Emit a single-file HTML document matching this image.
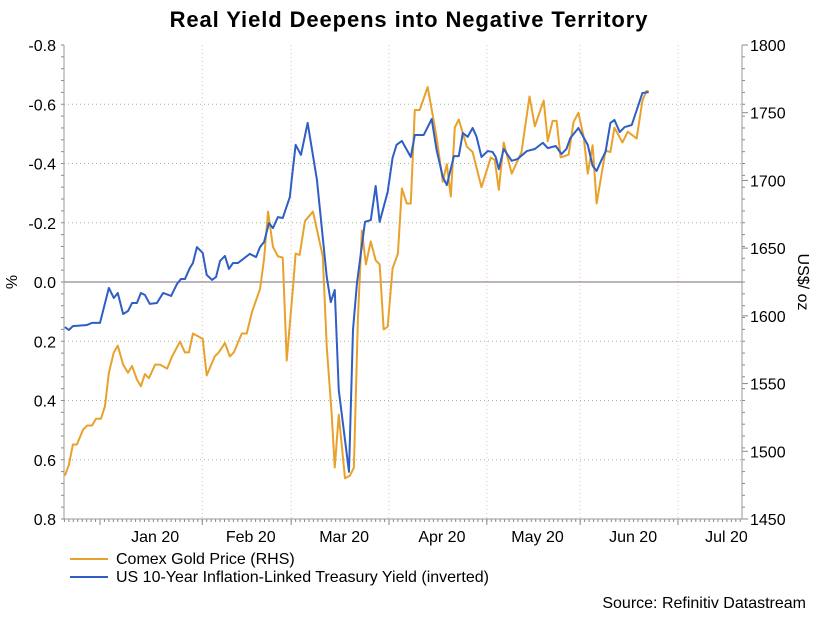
<!DOCTYPE html>
<html><head><meta charset="utf-8"><style>
body{margin:0;background:#fff;}
svg{display:block;font-family:"Liberation Sans",Arial,sans-serif;}
</style></head><body>
<svg id="c" width="818" height="617">
<text x="409" y="27" text-anchor="middle" font-size="22" font-weight="bold" letter-spacing="0.9" fill="#000">Real Yield Deepens into Negative Territory</text>
<g id="grid"></g><g id="axes"></g><g id="series"></g>
<text transform="translate(17,282) rotate(-90)" text-anchor="middle" font-size="16">%</text>
<text transform="translate(798,282) rotate(90)" text-anchor="middle" font-size="16">US$/ oz</text>
<g>
<line x1="70" y1="559" x2="108" y2="559" stroke="#e8a22c" stroke-width="2"/>
<text x="116" y="564" font-size="16">Comex Gold Price (RHS)</text>
<line x1="70" y1="577" x2="108" y2="577" stroke="#2f5ec4" stroke-width="2"/>
<text x="116" y="582" font-size="16">US 10-Year Inflation-Linked Treasury Yield (inverted)</text>
</g>
<text x="806" y="608" text-anchor="end" font-size="16">Source: Refinitiv Datastream</text>
</svg>
<script>
// business-day index from Jan 1 2020
const yieldDays=[-7.9,-7.0,-6.1,-2.9,-1.8,0,2.0,3.1,4.0,5.2,6.3,7.2,8.3,9.2,10.1,11.2,12.8,14.2,16.0,17.3,18.2,19.1,20.2,20.9,21.8,23.1,24.0,25.2,26.1,27.0,28.1,29.0,29.9,31.0,33.7,35.1,36.0,36.9,38.0,38.9,40.0,41.1,42.7,43.1,44.0,45.2,46.7,48.8,51.0,51.9,52.8,53.7,56.0,56.9,57.8,59.6,60.9,62.0,62.9,64.7,65.8,66.7,67.9,69.9,70.8,72.8,74.6,75.7,77.1,78.0,79.6,80.7,81.6,82.7,83.8,84.7,85.8,87.2,88.3,89.0,89.7,90.8,92.6,93.9,96.0,97.8,99.6,100.7,102.5,103.8,104.9,105.8,107.6,109.7,110.8,111.7,112.8,113.7,114.8,115.7,116.9,118.0,119.6,122.0,123.4];
const yieldVals=[0.152,0.162,0.149,0.145,0.138,0.138,0.02,0.054,0.037,0.108,0.098,0.071,0.071,0.037,0.044,0.074,0.071,0.037,0.047,0.007,-0.01,-0.01,-0.047,-0.064,-0.118,-0.098,-0.024,-0.007,-0.017,-0.071,-0.088,-0.044,-0.064,-0.064,-0.095,-0.084,-0.118,-0.135,-0.199,-0.182,-0.219,-0.216,-0.287,-0.344,-0.463,-0.429,-0.537,-0.344,-0.017,0.068,0.027,0.365,0.641,0.162,0.003,-0.203,-0.209,-0.324,-0.203,-0.304,-0.419,-0.463,-0.476,-0.422,-0.496,-0.496,-0.55,-0.446,-0.355,-0.327,-0.425,-0.425,-0.503,-0.49,-0.52,-0.49,-0.422,-0.442,-0.439,-0.422,-0.381,-0.449,-0.409,-0.415,-0.442,-0.449,-0.47,-0.452,-0.459,-0.432,-0.449,-0.486,-0.52,-0.463,-0.392,-0.375,-0.412,-0.439,-0.537,-0.547,-0.506,-0.523,-0.53,-0.638,-0.641];
const goldDays=[-7.9,-7.0,-6.1,-5.2,-3.8,-2.9,-1.8,-0.9,0.2,1.1,2.0,3.1,4.0,5.2,6.3,7.2,8.3,9.2,10.1,11.0,12.4,13.5,15.1,16.2,18.0,19.1,20.0,20.9,23.1,24.0,25.8,26.7,28.1,29.2,30.1,31.9,33.0,34.2,36.0,36.9,37.8,38.9,40.0,41.1,42.0,43.4,44.0,44.9,46.1,47.9,50.1,51.0,52.1,52.8,53.7,55.1,56.2,57.1,58.0,58.9,59.8,60.9,62.0,62.9,63.8,64.7,65.8,67.0,67.9,69.0,69.9,70.8,71.9,73.7,75.7,77.1,78.0,78.9,79.8,80.7,82.5,83.8,85.8,87.9,88.8,89.7,90.8,92.6,94.8,96.6,97.8,99.8,100.7,101.8,102.7,103.6,105.4,106.5,107.6,108.8,109.7,110.8,111.7,113.7,114.8,115.7,117.5,118.7,120.7,122.0,122.9,123.4];
const goldVals=[1482,1490,1505,1505,1516,1519,1519,1524,1524,1533,1558,1573,1578,1564,1558,1563,1553,1548,1557,1554,1564,1564,1561,1570,1581,1573,1573,1587,1583,1556,1570,1573,1580,1570,1573,1587,1587,1603,1620,1642,1677,1651,1644,1643,1567,1621,1646,1645,1670,1677,1644,1577,1528,1488,1527,1480,1482,1488,1597,1663,1638,1655,1641,1638,1590,1592,1635,1646,1694,1683,1683,1752,1752,1769,1732,1699,1712,1688,1739,1745,1725,1721,1695,1717,1715,1693,1728,1705,1721,1762,1740,1759,1729,1744,1744,1717,1719,1743,1750,1732,1705,1726,1683,1722,1721,1739,1728,1736,1731,1759,1766,1766];
const leftTicks=[-0.8,-0.6,-0.4,-0.2,0.0,0.2,0.4,0.6,0.8];
const rightTicks=[1450,1500,1550,1600,1650,1700,1750,1800];
const monthLabels=["Jan 20","Feb 20","Mar 20","Apr 20","May 20","Jun 20","Jul 20"];
const monthStarts=[0,23,43,65,87,108,130];
const monthEnds=[23,43,65,87,108,130,150];

const L=64,R=742,T=45,B=519;
const xS=d=>100+d*(578/130);
const yL=v=>T+(v+0.8)/1.6*(B-T);
const yR=v=>B-(v-1450)/350*(B-T);
const NS="http://www.w3.org/2000/svg";
function mk(parent,tag,attrs){const e=document.createElementNS(NS,tag);for(const k in attrs)e.setAttribute(k,attrs[k]);document.getElementById(parent).appendChild(e);return e;}

leftTicks.forEach((v,i)=>{
  const y=yL(v);
  if(v!==0&&i>0&&i<leftTicks.length-1){const g=mk('grid','line',{x1:L,x2:R,y1:y,y2:y,stroke:'#8fc48f','stroke-dasharray':'1,3'});
  
  }
  const t=mk('axes','text',{x:L-8,y:y+6,'text-anchor':'end','font-size':16});t.textContent=v.toFixed(1);
  
  
});
for(let v=-0.8;v<=0.801;v+=0.04){const y=yL(v);mk('axes','line',{x1:L-3,x2:L,y1:y,y2:y,stroke:'#888'});mk('axes','line',{x1:R,x2:R+3,y1:y,y2:y,stroke:'#888'});}
rightTicks.forEach(v=>{const y=yR(v);const t=mk('axes','text',{x:R+8,y:y+6,'font-size':16});t.textContent=v;
  
  
  mk('axes','line',{x1:R,x2:R+6,y1:y,y2:y,stroke:'#888'});});
monthStarts.forEach((d,i)=>{const x=xS(d);
  if(i>0){const g=mk('grid','line',{x1:x,x2:x,y1:T,y2:B,stroke:'#e8b8c8','stroke-dasharray':'1,3'});
  
  }
  mk('axes','line',{x1:x,x2:x,y1:B,y2:B+6,stroke:'#888'});
  const t=mk('axes','text',{x:xS((d+monthEnds[i])/2)+4,y:542,'text-anchor':'middle','font-size':16});t.textContent=monthLabels[i];
  
  
});
for(let d=-8;xS(d)<=R;d++){mk('axes','line',{x1:xS(d),x2:xS(d),y1:B,y2:B+3,stroke:'#888'});}
const z=mk('axes','line',{x1:L,x2:R,y1:yL(0),y2:yL(0),stroke:'#7a6a7a'});


const la=mk('axes','line',{x1:L,x2:L,y1:T,y2:B,stroke:'#999'});


const ra=mk('axes','line',{x1:R,x2:R,y1:T,y2:B,stroke:'#999'});


const ba=mk('axes','line',{x1:L,x2:R,y1:B,y2:B,stroke:'#999'});



const gp=mk('series','polyline',{points:goldDays.map((d,i)=>xS(d)+','+yR(goldVals[i])).join(' '),fill:'none',stroke:'#e8a22c','stroke-width':2,'stroke-linejoin':'round'});


const yp=mk('series','polyline',{points:yieldDays.map((d,i)=>xS(d)+','+yL(yieldVals[i])).join(' '),fill:'none',stroke:'#2f5ec4','stroke-width':2,'stroke-linejoin':'round'});


</script>
</body></html>
